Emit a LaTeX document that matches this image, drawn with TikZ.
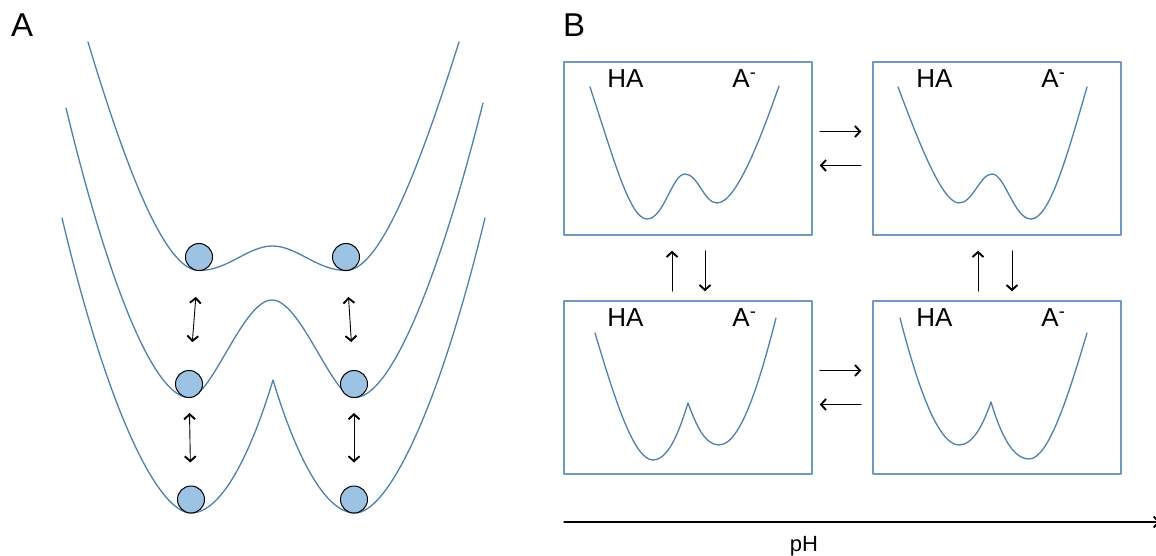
\documentclass[tikz,border=0pt]{standalone}
\usepackage{fontspec}
\setmainfont{Liberation Sans}
\usetikzlibrary{arrows.meta}
\definecolor{wellblue}{RGB}{80,128,172}
\definecolor{boxblue}{RGB}{112,152,192}
\definecolor{ballblue}{RGB}{157,195,228}
\begin{document}
\begin{tikzpicture}[
    x={(1pt,0pt)}, y={(0pt,-1pt)},
    line cap=round,
    line join=round,
    >={Straight Barb[length=5pt,width=11pt,line width=1.9pt]},
    well/.style={draw=wellblue, line width=1.3pt},
    ball/.style={circle, draw=black, fill=ballblue, line width=1pt, minimum size=27pt, inner sep=0pt},
    panel/.style={draw=boxblue, line width=1.5pt, minimum width=248pt, minimum height=173pt, inner sep=0pt},
    swap/.style={line width=0.9pt},
    tag/.style={inner sep=0pt, anchor=base west, font=\fontsize{26}{26}\selectfont}
]
\useasboundingbox (0,0) rectangle (1156,556);

\node[inner sep=0pt, anchor=base west, font=\fontsize{33}{33}\selectfont] (lblA) at (11,37) {A};
\node[inner sep=0pt, anchor=base west, font=\fontsize{33}{33}\selectfont] (lblB) at (563,37) {B};

% panel A
\draw[well] (88,42) .. controls (128,175) and (166,270.5) .. (199,270.5)
    .. controls (228,270.5) and (248,246) .. (272.5,246)
    .. controls (297,246) and (317,270.5) .. (346,270.5)
    .. controls (379,270.5) and (417,175) .. (459,42);
\draw[well] (66,108) .. controls (110,290) and (155,397.5) .. (189,397.5)
    .. controls (212,397.5) and (243,300) .. (272,300)
    .. controls (301,300) and (332,397.5) .. (355,397.5)
    .. controls (389,397.5) and (436,290) .. (483,103);
\draw[well] (62,218) .. controls (110,420) and (160,513) .. (191,513)
    .. controls (225,513) and (255,440) .. (273,380)
    .. controls (291,440) and (321,513) .. (355,513)
    .. controls (386,513) and (436,420) .. (485,218);

\node[ball] (b1l) at (199,257) {};
\node[ball] (b1r) at (346,257) {};
\node[ball] (b2l) at (189,384) {};
\node[ball] (b2r) at (354,384) {};
\node[ball] (b3l) at (191,499.5) {};
\node[ball] (b3r) at (354,499.5) {};

\draw[swap, <->, shorten <=26pt, shorten >=28pt] (b1l) -- (b2l);
\draw[swap, <->, shorten <=26pt, shorten >=28pt] (b1r) -- (b2r);
\draw[swap, <->, shorten <=15pt, shorten >=23pt] (b2l) -- (b3l);
\draw[swap, <->, shorten <=15pt, shorten >=23pt] (b2r) -- (b3r);

% panel B
\node[panel] (tl) at (688,148.5) {};
\node[panel] (tr) at (997,148.5) {};
\node[panel] (bl) at (688,387.5) {};
\node[panel] (br) at (997,387.5) {};

\foreach \b in {tl,tr,bl,br} {
    \node[tag] (\b ha) at ([shift={(44,26)}]\b.north west) {HA};
    \node[tag] (\b am) at ([shift={(169,26)}]\b.north west) {A\textsuperscript{-}};
}

\draw[well] (590,87) .. controls (614,160) and (630,219) .. (647,219)
    .. controls (664,219) and (672,174) .. (685,174)
    .. controls (698,174) and (704,203) .. (717,203)
    .. controls (736,203) and (760,140) .. (779,86);
\draw[well] (898,87) .. controls (918,140) and (942,203) .. (959,203)
    .. controls (973,203) and (980,174) .. (992,174)
    .. controls (1005,174) and (1014,219) .. (1031,219)
    .. controls (1049,219) and (1066,160) .. (1087,87);
\draw[well] (595,333) .. controls (615,400) and (634,460) .. (653,460)
    .. controls (670,460) and (681,425) .. (688,403)
    .. controls (696,425) and (705,445) .. (719,445)
    .. controls (741,445) and (760,380) .. (776,318);
\draw[well] (900,318) .. controls (916,380) and (937,445) .. (959,445)
    .. controls (973,445) and (983,425) .. (991,402)
    .. controls (998,425) and (1010,459) .. (1029,459)
    .. controls (1048,459) and (1067,400) .. (1087,333);

\draw[swap, ->, shorten <=7pt, shorten >=11pt] ([yshift=17pt]tl.east) -- ([yshift=17pt]tr.west);
\draw[swap, ->, shorten <=11pt, shorten >=7pt] ([yshift=-17pt]tr.west) -- ([yshift=-17pt]tl.east);
\draw[swap, ->, shorten <=7pt, shorten >=11pt] ([yshift=17pt]bl.east) -- ([yshift=17pt]br.west);
\draw[swap, ->, shorten <=11pt, shorten >=7pt] ([yshift=-17pt]br.west) -- ([yshift=-17pt]bl.east);

\draw[swap, ->, shorten <=9pt, shorten >=15pt] ([xshift=-16pt]bl.north) -- ([xshift=-16pt]tl.south);
\draw[swap, ->, shorten <=15pt, shorten >=9pt] ([xshift=17pt]tl.south) -- ([xshift=17pt]bl.north);
\draw[swap, ->, shorten <=9pt, shorten >=15pt] ([xshift=-19pt]br.north) -- ([xshift=-19pt]tr.south);
\draw[swap, ->, shorten <=15pt, shorten >=9pt] ([xshift=15pt]tr.south) -- ([xshift=15pt]br.north);

\coordinate (phstart) at (564,522);
\coordinate (phend) at (1160,522);
\draw[line width=1.4pt, ->] (phstart) -- (phend);
\node[inner sep=0pt, anchor=base, font=\fontsize{22}{22}\selectfont] (ph) at (804,551) {pH};
\end{tikzpicture}
\end{document}
